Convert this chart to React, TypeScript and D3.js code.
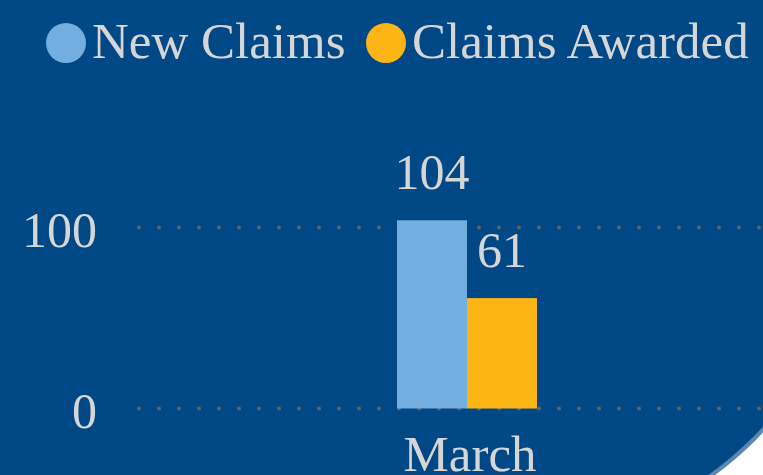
import React from "react";
import * as d3 from "d3";

const categories = ["March"];
const seriesNames = ["New Claims", "Claims Awarded"];
const newClaims = [104];
const claimsAwarded = [61];
const yTicks = [0, 100];
const seriesColors = ["#72aee0", "#fdb515"];

const W = 763;
const H = 475;
const FONT = "'Liberation Serif', 'Times New Roman', serif";
const TEXT = "#d6d6d6";
const BG = "#014886";

export default function App() {
  const y = d3.scaleLinear().domain([0, 100]).range([408.5, 227.5]);
  const x0 = d3.scaleBand<string>().domain(categories).range([137, 797]).paddingInner(0.65).paddingOuter(0.65);
  const x1 = d3.scaleBand<string>().domain(seriesNames).range([0, x0.bandwidth()]);
  const values = [newClaims, claimsAwarded];

  const legendX = [46, 366];

  return (
    <svg width={W} height={H} style={{ position: "absolute", left: 0, top: 0, display: "block" }}>
      <rect x={0} y={0} width={W} height={H} fill="#ffffff" />
      <rect x={-400} y={-400} width={1257} height={941} rx={350} ry={350} fill={BG} stroke="#5a87b0" strokeWidth={4} />
      {yTicks.map((t) => (
        <g key={t}>
          <line x1={139} x2={W + 20} y1={y(t)} y2={y(t)} stroke="#5f6368" strokeWidth={4} strokeLinecap="round" strokeDasharray="0 20" />
          <text x={97} y={y(t) + 19} textAnchor="end" fontFamily={FONT} fontSize={50} fill={TEXT}>
            {t}
          </text>
        </g>
      ))}
      {categories.map((c, ci) => (
        <g key={c} transform={`translate(${x0(c)},0)`}>
          {seriesNames.map((s, si) => {
            const v = values[si][ci];
            return (
              <g key={s}>
                <rect x={x1(s)} y={y(v)} width={x1.bandwidth()} height={y(0) - y(v)} fill={seriesColors[si]} />
                <text x={(x1(s) as number) + x1.bandwidth() / 2} y={y(v) - 31} textAnchor="middle" fontFamily={FONT} fontSize={50} fill={TEXT}>
                  {v}
                </text>
              </g>
            );
          })}
          <text x={x0.bandwidth() / 2 + 3} y={471} textAnchor="middle" fontFamily={FONT} fontSize={51} fill={TEXT}>
            {c}
          </text>
        </g>
      ))}
      {seriesNames.map((s, i) => (
        <g key={s} transform={`translate(${legendX[i]},0)`}>
          <circle cx={20} cy={43} r={20} fill={seriesColors[i]} />
          <text x={46} y={58} fontFamily={FONT} fontSize={51} fill={TEXT}>
            {s}
          </text>
        </g>
      ))}
    </svg>
  );
}
